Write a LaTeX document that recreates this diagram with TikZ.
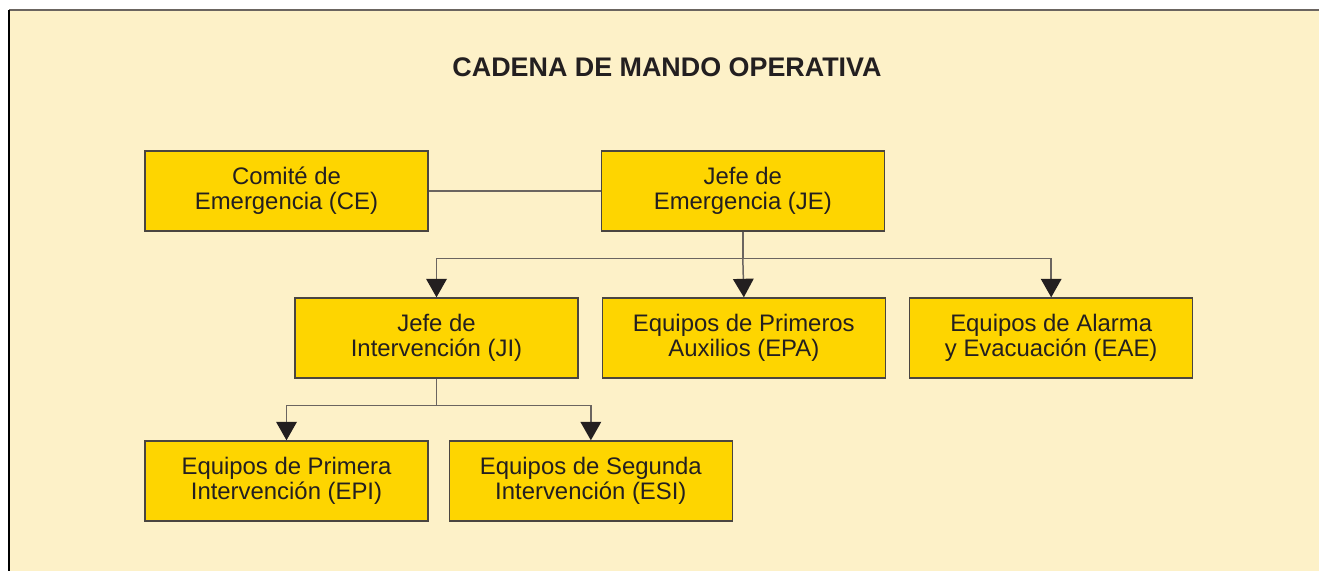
\documentclass[tikz,border=0pt]{standalone}
\usepackage{fontspec}
\setmainfont{Liberation Sans}
\usepackage{xcolor}
\usetikzlibrary{positioning,arrows.meta,calc}
\definecolor{fondo}{HTML}{FDF1C8}
\definecolor{amarillo}{HTML}{FED500}
\definecolor{borde}{HTML}{4A4540}
\definecolor{marco}{HTML}{6B6560}
\definecolor{punta}{HTML}{231F20}

\begin{document}
\begin{tikzpicture}[x=0.02cm, y=-0.02cm, font=\fontsize{13.6}{14.2}\selectfont, text=punta,
  caja/.style={draw=borde, line width=0.8pt, fill=amarillo, align=center, minimum width=5.66cm, minimum height=1.6cm, inner sep=0pt},
  linea/.style={draw=marco, line width=0.85pt},
  flecha/.style={linea, -{Triangle[width=0.42cm, length=0.37cm, fill=punta, line width=0pt]}}]
\useasboundingbox (0,0) rectangle (1319,571);
\fill[fondo] (9,10) rectangle (1319,571);
\draw[marco, line width=1.2pt] (1319,10) -- (9,10);
\draw[black, line width=1.2pt] (9,10) -- (9,571);
\node[font=\fontsize{15.3}{18}\selectfont\bfseries] (titulo) at (667,67) {CADENA DE MANDO OPERATIVA};
\node[caja] (ce) at (286.5,191) {Comité de\\Emergencia (CE)};
\node[caja, right=3.44cm of ce] (je) {Jefe de\\Emergencia (JE)};
\node[caja] (ji) at (436.5,338) {Jefe de\\Intervención (JI)};
\node[caja, right=0.46cm of ji] (epa) {Equipos de Primeros\\Auxilios (EPA)};
\node[caja, right=0.46cm of epa] (eae) {Equipos de Alarma\\y Evacuación (EAE)};
\node[caja] (epi) at (286.5,481) {Equipos de Primera\\Intervención (EPI)};
\node[caja, right=0.4cm of epi] (esi) {Equipos de Segunda\\Intervención (ESI)};
\draw[linea] (ce) -- (je);
\coordinate (b1) at ($(je.south)+(0,27)$);
\coordinate (b2) at ($(ji.south)+(0,27)$);
\draw[linea] (je.south) -- (b1);
\draw[flecha] (b1) -| (ji.north);
\draw[flecha] (b1) -- (epa.north);
\draw[flecha] (b1) -| (eae.north);
\draw[linea] (ji.south) -- (b2);
\draw[flecha] (b2) -| (epi.north);
\draw[flecha] (b2) -| (esi.north);
\end{tikzpicture}
\end{document}
